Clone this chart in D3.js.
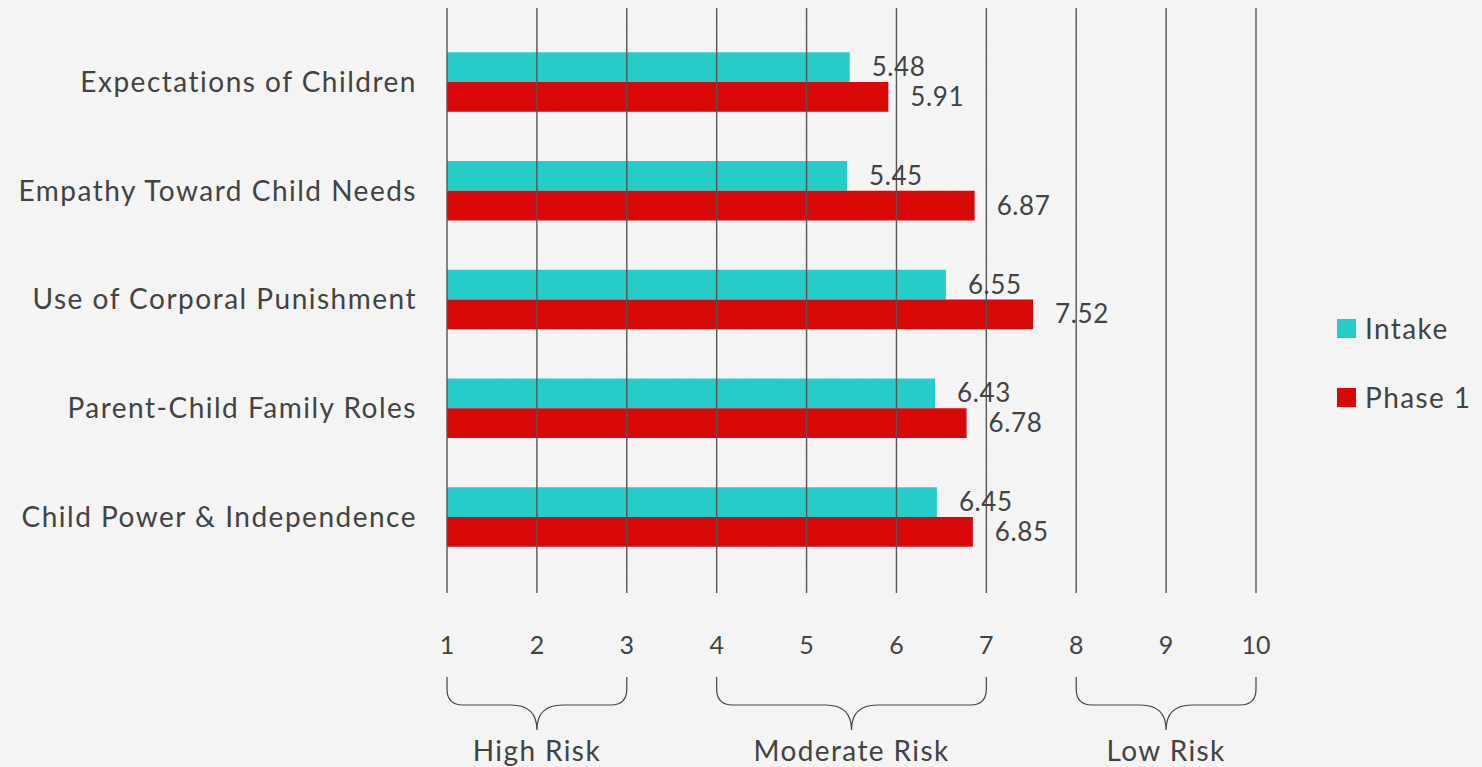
<!DOCTYPE html>
<html>
<head>
<meta charset="utf-8">
<script src="https://cdn.jsdelivr.net/npm/d3@7"></script>
<style>
	html, body { margin: 0; padding: 0; background: #f3f3f3; }
	svg { display: block; }
	text { font-family: Lato, "Noto Sans", sans-serif; fill: #424242; }
</style>
</head>
<body>
<script>
// données du graphique
const categories = ["Expectations of Children", "Empathy Toward Child Needs", "Use of Corporal Punishment", "Parent-Child Family Roles", "Child Power & Independence"];
const series = ["Intake", "Phase 1"];
const intake = [5.48, 5.45, 6.55, 6.43, 6.45];
const phase1 = [5.91, 6.87, 7.52, 6.78, 6.85];
const ticks = [1, 2, 3, 4, 5, 6, 7, 8, 9, 10];
const riskGroups = [["High Risk", 1, 3], ["Moderate Risk", 4, 7], ["Low Risk", 8, 10]];
const colors = ["#26ccc8", "#d90808"];

const width = 1482, height = 767;

const svg = d3.select("body").append("svg")
	.attr("width", width)
	.attr("height", height);

// fond légèrement texturé
const defs = svg.append("defs");
const filt = defs.append("filter").attr("id", "paper");
filt.append("feTurbulence").attr("type", "fractalNoise").attr("baseFrequency", 0.9).attr("numOctaves", 2).attr("result", "n");
filt.append("feColorMatrix").attr("type", "matrix")
	.attr("values", "0 0 0 0 0.55  0 0 0 0 0.55  0 0 0 0 0.55  0 0 0 0.07 0");
svg.append("rect").attr("width", width).attr("height", height).attr("fill", "#f6f6f6");
svg.append("rect").attr("width", width).attr("height", height).attr("filter", "url(#paper)");

const x = d3.scaleLinear().domain([1, 10]).range([447, 1256]);

const y = d3.scaleBand()
	.domain(categories)
	.range([3, 596])
	.padding(0.453);

const ySub = d3.scaleBand()
	.domain(series)
	.range([0, y.bandwidth()]);

const color = d3.scaleOrdinal().domain(series).range(colors);

const rows = categories.map((c, i) => ({ cat: c, vals: [intake[i], phase1[i]] }));

// barres
const group = svg.append("g");
group.selectAll("g.cat")
	.data(rows)
	.enter()
	.append("g")
	.attr("class", "cat")
	.attr("transform", d => "translate(0," + y(d.cat) + ")")
	.selectAll("rect")
	.data(d => d.vals.map((v, j) => ({ s: series[j], v: v })))
	.enter()
	.append("rect")
	.attr("x", x(1))
	.attr("y", d => ySub(d.s))
	.attr("width", d => x(d.v) - x(1))
	.attr("height", ySub.bandwidth())
	.attr("fill", d => color(d.s));

// lignes de la grille (au-dessus des barres)
svg.append("g").selectAll("line")
	.data(ticks)
	.enter()
	.append("line")
	.attr("x1", d => x(d)).attr("x2", d => x(d))
	.attr("y1", 8).attr("y2", 593)
	.attr("stroke", "#555")
	.attr("stroke-width", 1.4);

// étiquettes de valeurs
svg.append("g").selectAll("g")
	.data(rows)
	.enter()
	.append("g")
	.attr("transform", d => "translate(0," + y(d.cat) + ")")
	.selectAll("text")
	.data(d => d.vals.map((v, j) => ({ s: series[j], v: v })))
	.enter()
	.append("text")
	.attr("x", d => x(d.v) + 22)
	.attr("y", d => ySub(d.s) + ySub.bandwidth() / 2)
	.attr("dy", "0.35em")
	.attr("font-size", 26)
	.attr("letter-spacing", 0.6)
	.text(d => d.v.toFixed(2));

// libellés des catégories
svg.append("g").selectAll("text")
	.data(categories)
	.enter()
	.append("text")
	.attr("x", 417)
	.attr("y", d => y(d) + y.bandwidth() / 2)
	.attr("dy", "0.35em")
	.attr("text-anchor", "end")
	.attr("font-size", 28)
	.attr("letter-spacing", 1.5)
	.text(d => d);

// graduations
svg.append("g").selectAll("text")
	.data(ticks)
	.enter()
	.append("text")
	.attr("x", d => x(d))
	.attr("y", 645)
	.attr("dy", "0.35em")
	.attr("text-anchor", "middle")
	.attr("font-size", 25)
	.text(d => d);

// accolades des niveaux de risque
function brace(x0, x1, top, mid, tip) {
	const c = (x0 + x1) / 2, r = 16;
	return "M" + x0 + "," + top +
		"L" + x0 + "," + (mid - r) +
		"Q" + x0 + "," + mid + " " + (x0 + r) + "," + mid +
		"L" + (c - 26) + "," + mid +
		"Q" + c + "," + mid + " " + c + "," + tip +
		"Q" + c + "," + mid + " " + (c + 26) + "," + mid +
		"L" + (x1 - r) + "," + mid +
		"Q" + x1 + "," + mid + " " + x1 + "," + (mid - r) +
		"L" + x1 + "," + top;
}

const risk = svg.append("g");
risk.selectAll("path")
	.data(riskGroups)
	.enter()
	.append("path")
	.attr("d", d => brace(x(d[1]), x(d[2]), 677, 705, 730))
	.attr("fill", "none")
	.attr("stroke", "#444")
	.attr("stroke-width", 1.2);

risk.selectAll("text")
	.data(riskGroups)
	.enter()
	.append("text")
	.attr("x", d => (x(d[1]) + x(d[2])) / 2)
	.attr("y", 751)
	.attr("dy", "0.35em")
	.attr("text-anchor", "middle")
	.attr("font-size", 28)
	.attr("letter-spacing", 1.4)
	.text(d => d[0]);

// légende
const legend = svg.append("g").selectAll("g")
	.data(series)
	.enter()
	.append("g")
	.attr("transform", (d, i) => "translate(1337," + (319 + i * 69) + ")");

legend.append("rect")
	.attr("width", 19).attr("height", 19)
	.attr("fill", d => color(d));

legend.append("text")
	.attr("x", 28)
	.attr("y", 10)
	.attr("dy", "0.35em")
	.attr("font-size", 28)
	.attr("letter-spacing", 1.4)
	.text(d => d);
</script>
</body>
</html>
